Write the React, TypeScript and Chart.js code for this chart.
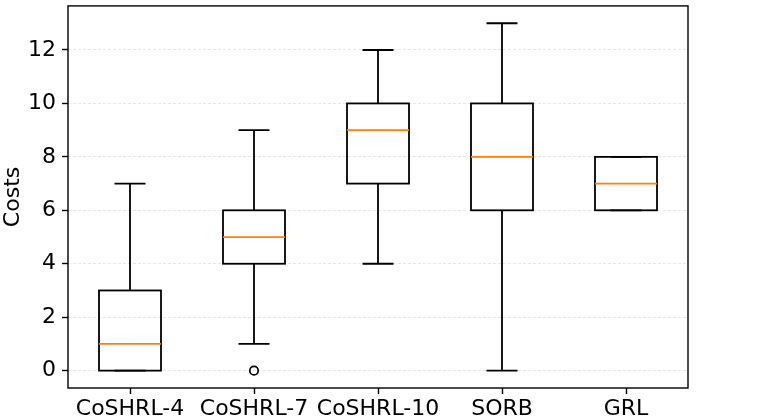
import React, { useEffect, useRef } from "react";
import { Chart, registerables } from "chart.js";

Chart.register(...registerables);

const categories = ["CoSHRL-4", "CoSHRL-7", "CoSHRL-10", "SORB", "GRL"];
const whiskerLow = [0, 1, 4, 0, 6];
const q1 = [0, 4, 7, 6, 6];
const medians = [1, 5, 9, 8, 7];
const q3 = [3, 6, 10, 10, 8];
const whiskerHigh = [7, 9, 12, 13, 8];
const outliers: (number | null)[] = [null, 0, null, null, null];
const yTicks = [0, 2, 4, 6, 8, 10, 12];

const boxPlugin = {
  id: "boxWhiskers",
  afterDatasetsDraw(chart: any) {
    const { ctx, scales } = chart;
    const x = scales.x;
    const y = scales.y;
    const meta = chart.getDatasetMeta(0);
    const catW = x.getPixelForValue(1) - x.getPixelForValue(0);
    const capHalf = catW * 0.125;
    ctx.save();
    ctx.lineCap = "butt";
    for (let i = 0; i < categories.length; i++) {
      const bar = meta.data[i];
      const cx = bar.x;
      const boxHalf = bar.width / 2;
      const yq1 = y.getPixelForValue(q1[i]);
      const yq3 = y.getPixelForValue(q3[i]);
      ctx.strokeStyle = "#000";
      ctx.lineWidth = 1.8;
      ctx.strokeRect(cx - boxHalf, yq3, boxHalf * 2, yq1 - yq3);
      ctx.beginPath();
      ctx.moveTo(cx, yq3);
      ctx.lineTo(cx, y.getPixelForValue(whiskerHigh[i]));
      ctx.moveTo(cx, yq1);
      ctx.lineTo(cx, y.getPixelForValue(whiskerLow[i]));
      ctx.moveTo(cx - capHalf, y.getPixelForValue(whiskerHigh[i]));
      ctx.lineTo(cx + capHalf, y.getPixelForValue(whiskerHigh[i]));
      ctx.moveTo(cx - capHalf, y.getPixelForValue(whiskerLow[i]));
      ctx.lineTo(cx + capHalf, y.getPixelForValue(whiskerLow[i]));
      ctx.stroke();
      ctx.strokeStyle = "#ff7f0e";
      ctx.beginPath();
      ctx.moveTo(cx - boxHalf, y.getPixelForValue(medians[i]));
      ctx.lineTo(cx + boxHalf, y.getPixelForValue(medians[i]));
      ctx.stroke();
    }
    ctx.restore();
  },
  afterDraw(chart: any) {
    const { ctx, chartArea } = chart;
    ctx.save();
    ctx.strokeStyle = "#000";
    ctx.lineWidth = 1.4;
    ctx.strokeRect(chartArea.left, chartArea.top, chartArea.right - chartArea.left, chartArea.bottom - chartArea.top);
    ctx.restore();
  },
};

export default function App() {
  const ref = useRef<HTMLCanvasElement>(null);
  useEffect(() => {
    if (!ref.current) return;
    Chart.defaults.font.family = "DejaVu Sans";
    const chart = new Chart(ref.current, {
      type: "bar",
      data: {
        labels: categories,
        datasets: [
          {
            type: "bar",
            data: categories.map((_, i) => [q1[i], q3[i]]) as any,
            backgroundColor: "rgba(0,0,0,0)",
            borderWidth: 0,
            categoryPercentage: 1,
            barPercentage: 0.5,
          } as any,
          {
            type: "line",
            data: outliers as any,
            showLine: false,
            pointRadius: 4.2,
            pointBorderColor: "#000",
            pointBackgroundColor: "rgba(0,0,0,0)",
            pointBorderWidth: 1.7,
          } as any,
        ],
      },
      options: {
        responsive: false,
        animation: false,
        layout: { padding: { top: 3, right: 74, left: 0, bottom: 0 } },
        plugins: { legend: { display: false }, tooltip: { enabled: false } },
        scales: {
          x: {
            type: "category",
            offset: true,
            afterFit: (s: any) => {
              s.height = 32;
              s.paddingLeft = 0;
              s.paddingRight = 0;
            },
            grid: {
              offset: false,
              drawOnChartArea: false,
              drawTicks: true,
              tickLength: 6,
              tickColor: "#000",
              tickWidth: 1.4,
            },
            border: { display: false },
            ticks: {
              color: "#000",
              font: { size: 22 },
              padding: 2,
              maxRotation: 0,
              autoSkip: false,
            },
          },
          y: {
            type: "linear",
            min: -0.65,
            max: 13.65,
            afterFit: (s: any) => {
              s.width = 68;
              s.paddingTop = 0;
              s.paddingBottom = 0;
            },
            afterBuildTicks: (s: any) => {
              s.ticks = yTicks.map((v) => ({ value: v }));
            },
            grid: {
              color: "#e6e6e6",
              lineWidth: 1,
              tickLength: 6,
              tickColor: "#000",
              tickWidth: 1.4,
              tickBorderDash: [],
            } as any,
            border: { display: false, dash: [3, 2] },
            ticks: {
              color: "#000",
              font: { size: 22 },
              padding: 6,
            },
            title: {
              display: true,
              text: "Costs",
              color: "#000",
              font: { size: 22 },
              padding: 0,
            },
          },
        },
      },
      plugins: [boxPlugin],
    });
    return () => chart.destroy();
  }, []);
  return (
    <div style={{ position: "absolute", left: 0, top: 0, width: 762, height: 420 }}>
      <canvas ref={ref} width={762} height={420} style={{ display: "block" }} />
    </div>
  );
}
